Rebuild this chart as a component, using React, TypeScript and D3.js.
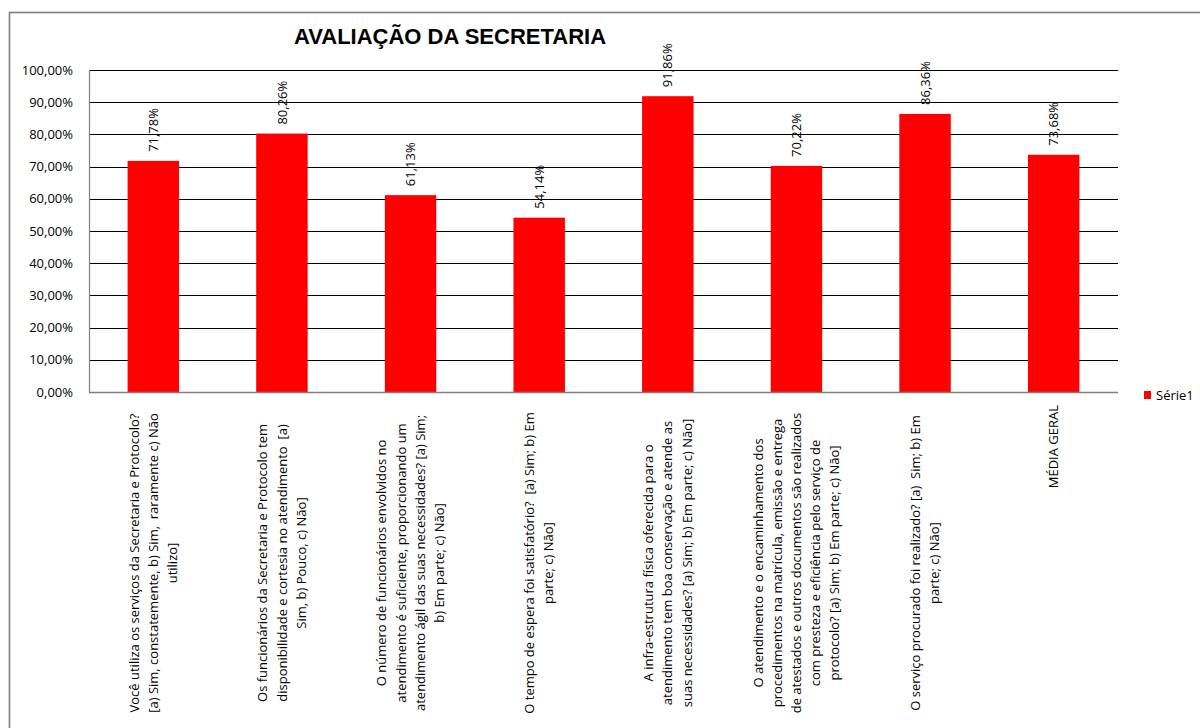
import React from "react";
import * as d3 from "d3";

const categories: string[][] = [
  ["Você utiliza os serviços da Secretaria e Protocolo?", "[a) Sim, constatemente, b) Sim,  raramente c) Não", "utilizo]"],
  ["Os funcionários da Secretaria e Protocolo tem", "disponibilidade e cortesia no atendimento  [a)", "Sim, b) Pouco, c) Não]"],
  ["O número de funcionários envolvidos no", "atendimento é suficiente, proporcionando um", "atendimento ágil das suas necessidades? [a) Sim;", "b) Em parte; c) Não]"],
  ["O tempo de espera foi satisfatório?  [a) Sim; b) Em", "parte; c) Não]"],
  ["A infra-estrutura física oferecida para o", "atendimento tem boa conservação e atende as", "suas necessidades? [a) Sim; b) Em parte; c) Não]"],
  ["O atendimento e o encaminhamento dos", "procedimentos na matrícula, emissão e entrega", "de atestados e outros documentos são realizados", "com presteza e eficiência pelo serviço de", "protocolo? [a) Sim; b) Em parte; c) Não]"],
  ["O serviço procurado foi realizado? [a)  Sim; b) Em", "parte; c) Não]"],
  ["MÉDIA GERAL"],
];
const values: number[] = [0.7178, 0.8026, 0.6113, 0.5414, 0.9186, 0.7022, 0.8636, 0.7368];
const yTicks: number[] = [0, 0.1, 0.2, 0.3, 0.4, 0.5, 0.6, 0.7, 0.8, 0.9, 1.0];
const seriesName = "Série1";
const title = "AVALIAÇÃO DA SECRETARIA";

const FONT = "'Open Sans', Lato, sans-serif";

export default function App() {
  const W = 1200, H = 728;
  const left = 89, right = 1118, top = 70, bottom = 392;
  const ids = categories.map((_, i) => String(i));
  const x = d3.scaleBand<string>().domain(ids).range([left, right]).paddingInner(0.6).paddingOuter(0.3);
  const y = d3.scaleLinear().domain([0, 1]).range([bottom, top]);
  const locale = d3.formatLocale({ decimal: ",", thousands: ".", grouping: [3], currency: ["", ""] });
  const fmt = locale.format(".2%");
  const lineH = 19.2;

  return (
    <svg width={W} height={H} style={{ position: "absolute", left: 0, top: 0, background: "#fff" }}>
      <rect x={0} y={0} width={W} height={H} fill="#fff" />
      {/* outer chart border */}
      <rect x={9.5} y={12.5} width={1400} height={900} fill="none" stroke="#7f7f7f" strokeWidth={1.6} />
      <text x={450} y={44} textAnchor="middle" fontFamily="'Liberation Sans', Arial, sans-serif" fontWeight="bold" fontSize={22} fill="#000">
        {title}
      </text>
      {/* gridlines */}
      {yTicks.map((t) => (
        <line key={"g" + t} x1={left} x2={right} y1={Math.round(y(t)) + 0.5} y2={Math.round(y(t)) + 0.5} stroke="#000" strokeWidth={1} />
      ))}
      {/* y tick labels */}
      {yTicks.map((t) => (
        <text key={"t" + t} x={73} y={y(t)} dy="0.35em" textAnchor="end" fontFamily={FONT} fontSize={13} fill="#000">
          {fmt(t)}
        </text>
      ))}
      {/* bars */}
      {values.map((v, i) => (
        <rect key={"b" + i} x={x(String(i))!} y={y(v)} width={x.bandwidth()} height={y(0) - y(v)} fill="#ff0000" />
      ))}
      {/* axes */}
      <line x1={left + 0.5} x2={left + 0.5} y1={top} y2={bottom} stroke="#808080" strokeWidth={1.2} />
      <line x1={left} x2={right} y1={bottom + 0.5} y2={bottom + 0.5} stroke="#808080" strokeWidth={1.6} />
      {/* value labels */}
      {values.map((v, i) => {
        const cx = x(String(i))! + x.bandwidth() / 2;
        const ty = y(v) - 9;
        return (
          <text key={"v" + i} transform={`translate(${cx},${ty}) rotate(-90)`} dy="0.35em" textAnchor="start" fontFamily={FONT} fontSize={13} fill="#000">
            {fmt(v)}
          </text>
        );
      })}
      {/* category labels */}
      {categories.map((lines, i) => {
        const cx = x(String(i))! + x.bandwidth() / 2;
        const n = lines.length;
        const single = n === 1;
        const cy = single ? 405 : 563;
        return (
          <g key={"c" + i}>
            {lines.map((ln, j) => {
              const lx = cx + (j - (n - 1) / 2) * lineH;
              return (
                <text key={j} transform={`translate(${lx},${cy}) rotate(-90)`} dy="0.35em" textAnchor={single ? "end" : "middle"} fontFamily={FONT} fontSize={13} fill="#000" style={{ whiteSpace: "pre" }}>
                  {ln}
                </text>
              );
            })}
          </g>
        );
      })}
      {/* legend */}
      <rect x={1144} y={391} width={7} height={8} fill="#ff0000" />
      <text x={1156} y={395} dy="0.35em" fontFamily={FONT} fontSize={13} fill="#000">
        {seriesName}
      </text>
    </svg>
  );
}
